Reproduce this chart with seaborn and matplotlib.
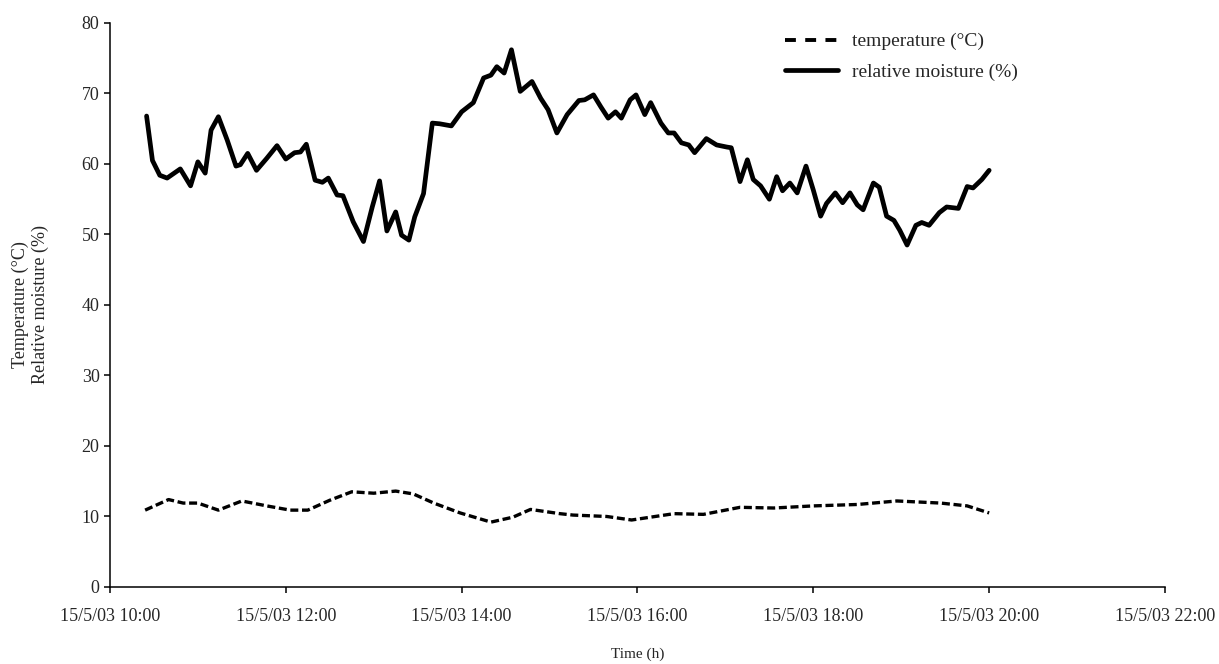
import pandas as pd
import numpy as np
import matplotlib
matplotlib.use("Agg")
import matplotlib.pyplot as plt
import matplotlib.dates as mdates
import seaborn as sns

# relative moisture readings (time, %)
rh_times = ["10:25", "10:29", "10:34", "10:39", "10:48", "10:55", "11:00", "11:05", "11:09", "11:14",
            "11:20", "11:26", "11:29", "11:34", "11:40", "11:47", "11:54", "12:00", "12:06", "12:10",
            "12:14", "12:20", "12:25", "12:29", "12:35", "12:39", "12:46", "12:53", "12:59", "13:04",
            "13:09", "13:15", "13:19", "13:24", "13:28", "13:34", "13:40", "13:45", "13:53", "14:00",
            "14:08", "14:15", "14:20", "14:24", "14:29", "14:34", "14:40", "14:48", "14:54", "14:59",
            "15:05", "15:12", "15:20", "15:24", "15:30", "15:35", "15:40", "15:45", "15:49", "15:55",
            "15:59", "16:05", "16:09", "16:16", "16:21", "16:25", "16:30", "16:35", "16:39", "16:47",
            "16:54", "17:01", "17:04", "17:10", "17:15", "17:19", "17:24", "17:30", "17:35", "17:39",
            "17:44", "17:49", "17:55", "18:00", "18:05", "18:09", "18:15", "18:20", "18:25", "18:30",
            "18:34", "18:41", "18:45", "18:50", "18:55", "18:59", "19:04", "19:10", "19:14", "19:19",
            "19:26", "19:31", "19:39", "19:45", "19:49", "19:55", "20:00"]
rh_values = [66.8, 60.5, 58.4, 58.0, 59.3, 56.9, 60.3, 58.7, 64.8, 66.7,
             63.4, 59.7, 59.9, 61.5, 59.1, 60.8, 62.6, 60.7, 61.6, 61.7,
             62.8, 57.7, 57.4, 58.0, 55.6, 55.5, 51.8, 49.0, 53.9, 57.6,
             50.5, 53.2, 49.9, 49.2, 52.5, 55.8, 65.8, 65.7, 65.4, 67.4,
             68.7, 72.2, 72.6, 73.8, 72.9, 76.2, 70.3, 71.7, 69.3, 67.7,
             64.4, 67.0, 69.0, 69.1, 69.8, 68.1, 66.5, 67.4, 66.5, 69.1,
             69.8, 67.0, 68.7, 65.8, 64.4, 64.4, 63.0, 62.7, 61.6, 63.6,
             62.7, 62.4, 62.3, 57.5, 60.6, 57.8, 56.9, 55.0, 58.2, 56.2,
             57.3, 55.9, 59.7, 56.3, 52.6, 54.4, 55.9, 54.5, 55.9, 54.2,
             53.5, 57.3, 56.7, 52.6, 52.0, 50.6, 48.5, 51.3, 51.7, 51.3,
             53.1, 53.9, 53.7, 56.8, 56.6, 57.8, 59.1]

# temperature readings (time, °C)
t_times = ["10:24", "10:40", "10:50", "11:00", "11:14", "11:30", "11:47", "12:03", "12:15", "12:30",
           "12:45", "13:00", "13:15", "13:27", "13:41", "13:59", "14:20", "14:35", "14:47", "15:07",
           "15:16", "15:39", "15:56", "16:25", "16:45", "17:10", "17:33", "18:00", "18:30", "18:57",
           "19:27", "19:45", "20:00"]
t_values = [10.9, 12.4, 11.9, 11.9, 10.9, 12.2, 11.5, 10.9, 10.9, 12.3,
            13.5, 13.3, 13.6, 13.2, 11.9, 10.5, 9.2, 9.9, 11.0, 10.4,
            10.2, 10.0, 9.5, 10.4, 10.3, 11.3, 11.2, 11.5, 11.7, 12.2,
            11.9, 11.5, 10.5]

day = "2003-05-15 "
rh = pd.DataFrame({"time": pd.to_datetime([day + t for t in rh_times]), "value": rh_values})
temp = pd.DataFrame({"time": pd.to_datetime([day + t for t in t_times]), "value": t_values})

sns.set_style("white")
plt.rcParams["font.family"] = ["Liberation Serif", "DejaVu Serif"]

fig = plt.figure(figsize=(12.19, 6.64), dpi=100)
ax = fig.add_axes([0.0902, 0.116, 0.8655, 0.8494])

sns.lineplot(data=temp, x="time", y="value", ax=ax, color="black", linewidth=2.4,
             label="temperature (°C)")
ax.lines[-1].set_dashes([2.4, 1.1])
sns.lineplot(data=rh, x="time", y="value", ax=ax, color="black", linewidth=3.4,
             label="relative moisture (%)")
for ln in ax.lines:
    ln.set_solid_joinstyle("round")
    ln.set_dash_joinstyle("round")

ax.set_xlim(pd.Timestamp(day + "10:00"), pd.Timestamp(day + "22:00"))
ax.set_ylim(0, 80)
ax.set_yticks(range(0, 81, 10))
ax.xaxis.set_major_locator(mdates.HourLocator(byhour=range(10, 23, 2)))
ax.xaxis.set_major_formatter(mdates.DateFormatter("%-d/%-m/%y %H:%M"))

sns.despine(ax=ax)
for s in ["left", "bottom"]:
    ax.spines[s].set_linewidth(1.1)
    ax.spines[s].set_color("black")
ax.tick_params(axis="both", direction="out", length=4, width=1.1, color="black",
               labelsize=13, bottom=True, left=True)
ax.tick_params(axis="x", pad=11)

ax.set_xlabel("Time (h)", fontsize=11)
ax.xaxis.set_label_coords(0.5, -0.107)
ax.set_ylabel("Temperature (°C)\nRelative moisture (%)", fontsize=13, linespacing=1.15)
ax.yaxis.set_label_coords(-0.058, 0.5)

leg = ax.legend(loc="upper left", bbox_to_anchor=(0.630, 0.977), bbox_transform=fig.transFigure,
                frameon=False, fontsize=14, handlelength=2.7, handletextpad=0.7,
                labelspacing=0.66)
leg.get_lines()[0].set_dashes([2.8, 2.4])
leg.get_lines()[0].set_linewidth(2.8)

fig.savefig("out.png", dpi=100)
